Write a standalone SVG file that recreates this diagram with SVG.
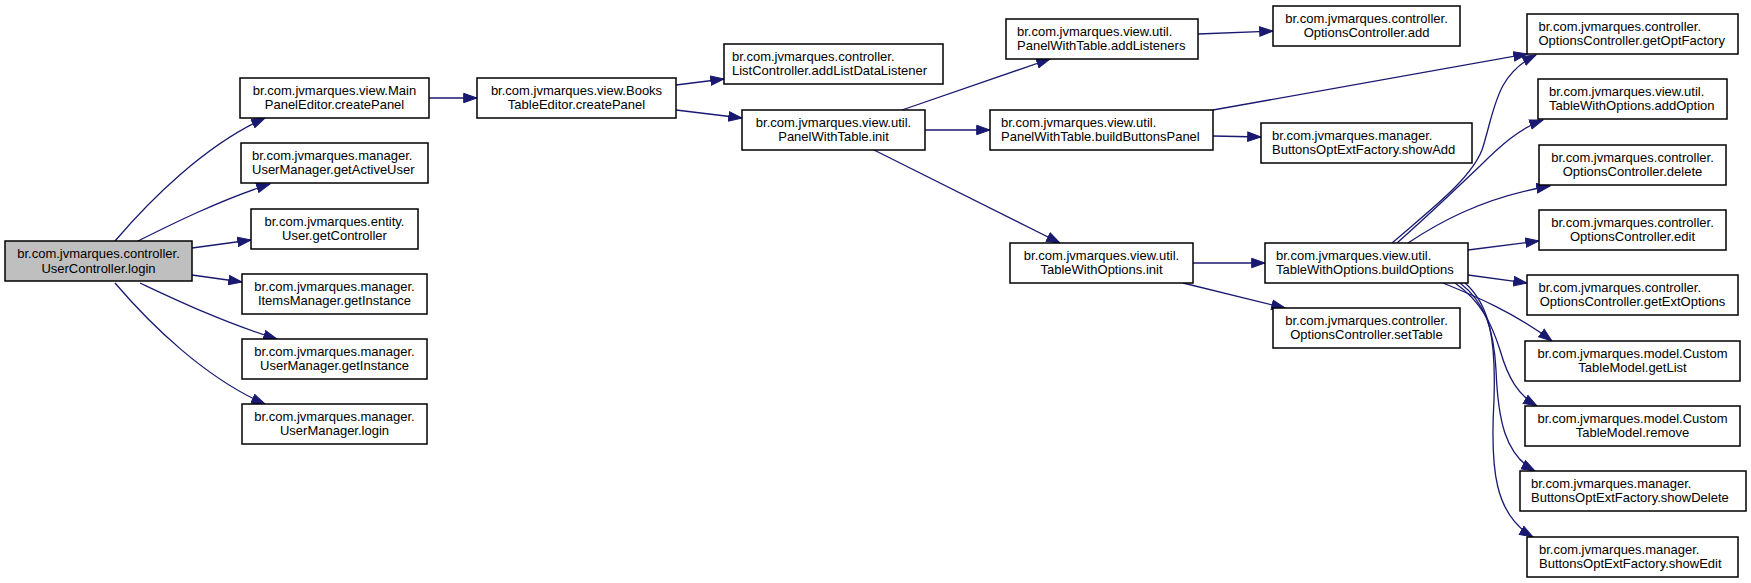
<svg xmlns="http://www.w3.org/2000/svg" width="1751" height="583" viewBox="0 0 1751 583">
<style>
.n rect{fill:#fff;stroke:#000;stroke-width:1.5}
.root rect{fill:#bfbfbf}
text{font-family:"Liberation Sans",Arial,sans-serif;font-size:13px;fill:#000}
.c{text-anchor:middle}
.e path{fill:none;stroke:#191970;stroke-width:1.3;marker-end:url(#ah)}
</style>
<defs>
<marker id="ah" markerUnits="userSpaceOnUse" markerWidth="16" markerHeight="12" viewBox="0 -6 15 12" refX="13.3" refY="0" orient="auto">
<path d="M0,-4.7 L13.3,0 L0,4.7 z" fill="#191970" stroke="#191970" stroke-width="1"/>
</marker>
</defs>
<rect width="1751" height="583" fill="#fff"/>
<g class="e" id="edges">
<path d="M115,241 C150,200 205,145 265,118"/>
<path d="M138,241 C170,225 220,200 270,184"/>
<path d="M192,248 L251,240"/>
<path d="M192,275 L242,282"/>
<path d="M140,283 C172,298 222,322 277,339"/>
<path d="M115,283 C150,324 205,378 265,404"/>
<path d="M429,98 L477,98"/>
<path d="M676,85 L724,79"/>
<path d="M676,110 L742,118"/>
<path d="M902,110 L1050,59"/>
<path d="M925,130 L990,130"/>
<path d="M874,150 L1060,243"/>
<path d="M1198,34 L1273,31"/>
<path d="M1213,110 L1527,54"/>
<path d="M1213,136 L1261,137"/>
<path d="M1193,263 L1265,263"/>
<path d="M1183,283 L1285,308"/>
<path d="M1392,243 C1430,210 1470,180 1482,150 C1495,110 1495,75 1536,55"/>
<path d="M1397,243 C1430,214 1460,185 1480,166 C1500,146 1520,128 1543,120"/>
<path d="M1408,243 C1435,225 1480,198 1550,186"/>
<path d="M1468,250 L1539,241"/>
<path d="M1468,275 L1527,283"/>
<path d="M1443,283 C1475,296 1515,313 1552,341"/>
<path d="M1455,283 C1482,302 1492,325 1500,350 C1508,378 1518,395 1537,406"/>
<path d="M1460,283 C1485,302 1494,330 1496,370 C1498,420 1505,455 1535,471"/>
<path d="M1465,283 C1490,305 1496,340 1494,400 C1490,470 1495,515 1533,537"/>
</g>
<g class="n root" id="n_root"><rect x="5" y="241" width="187" height="40"/><text class="c" x="98.5" y="258">br.com.jvmarques.controller.</text><text class="c" x="98.5" y="272.5">UserController.login</text></g>
<g class="n" id="n_main"><rect x="240" y="78" width="189" height="40"/><text class="c" x="334.5" y="94.5">br.com.jvmarques.view.Main</text><text class="c" x="334.5" y="109">PanelEditor.createPanel</text></g>
<g class="n" id="n_active"><rect x="241" y="143" width="187" height="40"/><text x="252" y="159.5">br.com.jvmarques.manager.</text><text x="252" y="174">UserManager.getActiveUser</text></g>
<g class="n" id="n_getctrl"><rect x="251" y="209" width="167" height="40"/><text class="c" x="334.5" y="225.5">br.com.jvmarques.entity.</text><text class="c" x="334.5" y="240">User.getController</text></g>
<g class="n" id="n_items"><rect x="242" y="274" width="185" height="40"/><text class="c" x="334.5" y="290.5">br.com.jvmarques.manager.</text><text class="c" x="334.5" y="305">ItemsManager.getInstance</text></g>
<g class="n" id="n_umgetinst"><rect x="242" y="339" width="185" height="40"/><text class="c" x="334.5" y="355.5">br.com.jvmarques.manager.</text><text class="c" x="334.5" y="370">UserManager.getInstance</text></g>
<g class="n" id="n_umlogin"><rect x="242" y="404" width="185" height="40"/><text class="c" x="334.5" y="420.5">br.com.jvmarques.manager.</text><text class="c" x="334.5" y="435">UserManager.login</text></g>
<g class="n" id="n_books"><rect x="477" y="78" width="199" height="40"/><text class="c" x="576.5" y="94.5">br.com.jvmarques.view.Books</text><text class="c" x="576.5" y="109">TableEditor.createPanel</text></g>
<g class="n" id="n_addlist"><rect x="724" y="44" width="219" height="40"/><text x="732" y="60.5">br.com.jvmarques.controller.</text><text x="732" y="75">ListController.addListDataListener</text></g>
<g class="n" id="n_pwtinit"><rect x="742" y="110" width="183" height="40"/><text class="c" x="833.5" y="126.5">br.com.jvmarques.view.util.</text><text class="c" x="833.5" y="141">PanelWithTable.init</text></g>
<g class="n" id="n_addlisteners"><rect x="1006" y="19" width="192" height="40"/><text x="1017" y="35.5">br.com.jvmarques.view.util.</text><text x="1017" y="50">PanelWithTable.addListeners</text></g>
<g class="n" id="n_buildbtn"><rect x="990" y="110" width="223" height="40"/><text x="1001" y="126.5">br.com.jvmarques.view.util.</text><text x="1001" y="141">PanelWithTable.buildButtonsPanel</text></g>
<g class="n" id="n_twoinit"><rect x="1010" y="243" width="183" height="40"/><text class="c" x="1101.5" y="259.5">br.com.jvmarques.view.util.</text><text class="c" x="1101.5" y="274">TableWithOptions.init</text></g>
<g class="n" id="n_ocadd"><rect x="1273" y="6" width="187" height="40"/><text class="c" x="1366.5" y="22.5">br.com.jvmarques.controller.</text><text class="c" x="1366.5" y="37">OptionsController.add</text></g>
<g class="n" id="n_showadd"><rect x="1261" y="123" width="211" height="40"/><text x="1272" y="139.5">br.com.jvmarques.manager.</text><text x="1272" y="154">ButtonsOptExtFactory.showAdd</text></g>
<g class="n" id="n_buildopt"><rect x="1265" y="243" width="203" height="40"/><text x="1276" y="259.5">br.com.jvmarques.view.util.</text><text x="1276" y="274">TableWithOptions.buildOptions</text></g>
<g class="n" id="n_settable"><rect x="1273" y="308" width="187" height="40"/><text class="c" x="1366.5" y="324.5">br.com.jvmarques.controller.</text><text class="c" x="1366.5" y="339">OptionsController.setTable</text></g>
<g class="n" id="n_getopt"><rect x="1527" y="14" width="211" height="40"/><text x="1538.5" y="30.5">br.com.jvmarques.controller.</text><text x="1538.5" y="45">OptionsController.getOptFactory</text></g>
<g class="n" id="n_addopt"><rect x="1538" y="79" width="189" height="40"/><text x="1549" y="95.5">br.com.jvmarques.view.util.</text><text x="1549" y="110">TableWithOptions.addOption</text></g>
<g class="n" id="n_delete"><rect x="1539" y="145" width="187" height="40"/><text class="c" x="1632.5" y="161.5">br.com.jvmarques.controller.</text><text class="c" x="1632.5" y="176">OptionsController.delete</text></g>
<g class="n" id="n_edit"><rect x="1539" y="210" width="187" height="40"/><text class="c" x="1632.5" y="226.5">br.com.jvmarques.controller.</text><text class="c" x="1632.5" y="241">OptionsController.edit</text></g>
<g class="n" id="n_getext"><rect x="1527" y="275" width="211" height="40"/><text x="1538.5" y="291.5">br.com.jvmarques.controller.</text><text class="c" x="1632.5" y="306">OptionsController.getExtOptions</text></g>
<g class="n" id="n_getlist"><rect x="1525" y="341" width="215" height="40"/><text class="c" x="1632.5" y="357.5">br.com.jvmarques.model.Custom</text><text class="c" x="1632.5" y="372">TableModel.getList</text></g>
<g class="n" id="n_remove"><rect x="1525" y="406" width="215" height="40"/><text class="c" x="1632.5" y="422.5">br.com.jvmarques.model.Custom</text><text class="c" x="1632.5" y="437">TableModel.remove</text></g>
<g class="n" id="n_showdel"><rect x="1520" y="471" width="226" height="40"/><text x="1531" y="487.5">br.com.jvmarques.manager.</text><text x="1531" y="502">ButtonsOptExtFactory.showDelete</text></g>
<g class="n" id="n_showedit"><rect x="1527" y="537" width="211" height="40"/><text x="1539" y="553.5">br.com.jvmarques.manager.</text><text x="1539" y="568">ButtonsOptExtFactory.showEdit</text></g>
</svg>
